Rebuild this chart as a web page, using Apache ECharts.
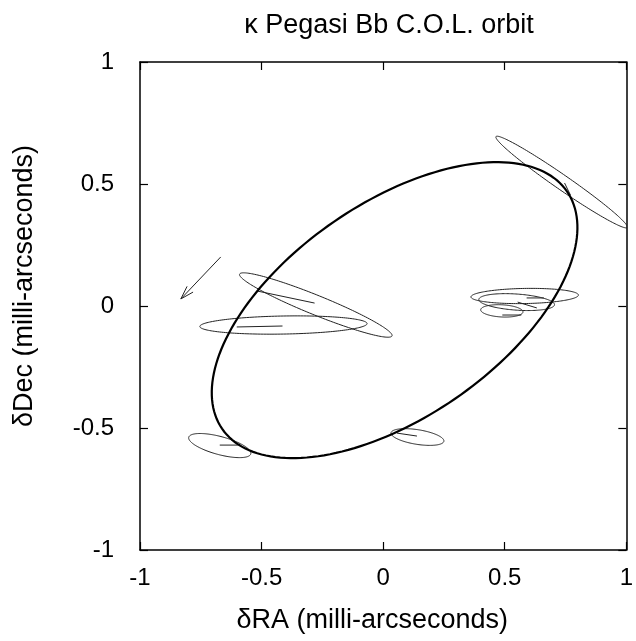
<!DOCTYPE html>
<html>
<head>
<meta charset="utf-8">
<script src="https://cdn.jsdelivr.net/npm/echarts@6/dist/echarts.min.js"></script>
<style>html,body{margin:0;padding:0;background:#fff}#c{width:636px;height:641px}</style>
</head>
<body>
<div id="c"></div>
<script>
// ---- data (milli-arcseconds) ----
const xTicks = [-1, -0.5, 0, 0.5, 1];
const yTicks = [-1, -0.5, 0, 0.5, 1];
// fitted orbit: centre x, centre y, semi-major, semi-minor, position angle (deg)
const orbitCx = [0.047];
const orbitCy = [-0.017];
const orbitA = [0.860];
const orbitB = [0.440];
const orbitAng = [34.4];
// error ellipses of the measurements
const errCx = [0.734, -0.277, -0.410, 0.582, 0.549, 0.488, -0.672, 0.141];
const errCy = [0.508, 0.004, -0.078, 0.041, 0.016, -0.020, -0.572, -0.537];
const errA = [0.328, 0.338, 0.344, 0.221, 0.156, 0.087, 0.132, 0.110];
const errB = [0.030, 0.040, 0.037, 0.031, 0.033, 0.025, 0.037, 0.030];
const errAng = [-34.6, -22, 1, 1, -4, -3, -15, -9];
// residual segments: predicted orbit position -> measurement
const resX0 = [0.770, -0.516, -0.602, 0.590, 0.553, 0.490, -0.672, 0.057];
const resY0 = [0.455, 0.061, -0.086, 0.033, 0.016, -0.037, -0.570, -0.521];
const resX1 = [0.746, -0.282, -0.414, 0.661, 0.632, 0.568, -0.598, 0.139];
const resY1 = [0.504, 0.012, -0.082, 0.033, -0.008, -0.037, -0.570, -0.533];
// direction-of-motion arrow
const arrowX = [-0.668, -0.832];
const arrowY = [0.201, 0.029];

const FONT = 'Liberation Sans';
const FS = 24;     // tick labels
const FSN = 27;    // title and axis names

function ellipseShape(api, cx, cy, a, b, angDeg) {
  const t = angDeg * Math.PI / 180, pts = [];
  const N = 180;
  for (let i = 0; i <= N; i++) {
    const p = 2 * Math.PI * i / N;
    const x = cx + a * Math.cos(p) * Math.cos(t) - b * Math.sin(p) * Math.sin(t);
    const y = cy + a * Math.cos(p) * Math.sin(t) + b * Math.sin(p) * Math.cos(t);
    pts.push(api.coord([x, y]));
  }
  return pts;
}

const orbitData = orbitCx.map((c, i) => [c, orbitCy[i], orbitA[i], orbitB[i], orbitAng[i]]);
const errData = errCx.map((c, i) => [c, errCy[i], errA[i], errB[i], errAng[i]]);
const resData = resX0.map((x, i) => [x, resY0[i], resX1[i], resY1[i]]);

const chart = echarts.init(document.getElementById('c'), null, {renderer: 'canvas'});

const axisCommon = {
  type: 'value', min: -1, max: 1, interval: 0.5,
  splitLine: {show: false},
  axisLine: {show: true, onZero: false, lineStyle: {color: '#000', width: 1.5}},
  axisTick: {show: true, inside: true, length: 8, lineStyle: {color: '#000', width: 1.2}},
};

chart.setOption({
  animation: false,
  backgroundColor: '#fff',
  title: {
    text: '\u03BA Pegasi Bb C.O.L. orbit',
    left: 384, textAlign: 'center', top: 7,
    textStyle: {fontFamily: FONT, fontSize: FSN, fontWeight: 'normal', color: '#000'}
  },
  grid: {left: 140, right: 8, top: 62, bottom: 91},
  xAxis: [
    Object.assign({}, axisCommon, {
      position: 'bottom',
      name: '\u03B4RA (milli-arcseconds)', nameLocation: 'middle', nameGap: 57,
      nameTextStyle: {fontFamily: FONT, fontSize: FSN, color: '#000', padding: [0, 22, 0, 0]},
      axisLabel: {fontFamily: FONT, fontSize: FS, color: '#000', margin: 16, showMinLabel: true, showMaxLabel: true,
        formatter: v => String(v), customValues: xTicks},
      axisTick: Object.assign({}, axisCommon.axisTick, {customValues: xTicks})
    }),
    Object.assign({}, axisCommon, {position: 'top', axisLabel: {show: false}})
  ],
  yAxis: [
    Object.assign({}, axisCommon, {
      position: 'left',
      name: '\u03B4Dec (milli-arcseconds)', nameLocation: 'middle', nameGap: 102, nameRotate: 90,
      nameTextStyle: {fontFamily: FONT, fontSize: FSN, color: '#000', padding: [0, 0, 0, 40]},
      axisLabel: {fontFamily: FONT, fontSize: FS, color: '#000', margin: 26, showMinLabel: true, showMaxLabel: true,
        formatter: v => String(v), customValues: yTicks},
      axisTick: Object.assign({}, axisCommon.axisTick, {customValues: yTicks})
    }),
    Object.assign({}, axisCommon, {position: 'right', axisLabel: {show: false}})
  ],
  series: [
    {
      type: 'custom', name: 'errors', clip: true, xAxisIndex: 0, yAxisIndex: 0,
      encode: {x: 0, y: 1},
      data: errData,
      renderItem: (params, api) => ({
        type: 'polyline',
        shape: {points: ellipseShape(api, api.value(0), api.value(1), api.value(2), api.value(3), api.value(4))},
        style: {stroke: '#222', lineWidth: 1, fill: null}
      })
    },
    {
      type: 'custom', name: 'residuals', clip: true,
      encode: {x: [0, 2], y: [1, 3]},
      data: resData,
      renderItem: (params, api) => {
        const p0 = api.coord([api.value(0), api.value(1)]);
        const p1 = api.coord([api.value(2), api.value(3)]);
        return {type: 'line', shape: {x1: p0[0], y1: p0[1], x2: p1[0], y2: p1[1]},
          style: {stroke: '#222', lineWidth: 1}};
      }
    },
    {
      type: 'custom', name: 'orbit', clip: true,
      encode: {x: 0, y: 1},
      data: orbitData,
      renderItem: (params, api) => ({
        type: 'polyline',
        shape: {points: ellipseShape(api, api.value(0), api.value(1), api.value(2), api.value(3), api.value(4))},
        style: {stroke: '#000', lineWidth: 2.2, fill: null}
      })
    },
    {
      type: 'custom', name: 'arrow', clip: true,
      encode: {x: [0, 2], y: [1, 3]},
      data: [[arrowX[0], arrowY[0], arrowX[1], arrowY[1]]],
      renderItem: (params, api) => {
        const p0 = api.coord([api.value(0), api.value(1)]);
        const p1 = api.coord([api.value(2), api.value(3)]);
        const ang = Math.atan2(p1[1] - p0[1], p1[0] - p0[0]);
        const L = 14, h = 0.3;
        const b1 = [p1[0] - L * Math.cos(ang - h), p1[1] - L * Math.sin(ang - h)];
        const b2 = [p1[0] - L * Math.cos(ang + h), p1[1] - L * Math.sin(ang + h)];
        const st = {stroke: '#222', lineWidth: 1};
        return {type: 'group', children: [
          {type: 'line', shape: {x1: p0[0], y1: p0[1], x2: p1[0], y2: p1[1]}, style: st},
          {type: 'polyline', shape: {points: [b1, p1, b2]}, style: Object.assign({fill: null}, st)}
        ]};
      }
    }
  ]
});
</script>
</body>
</html>
